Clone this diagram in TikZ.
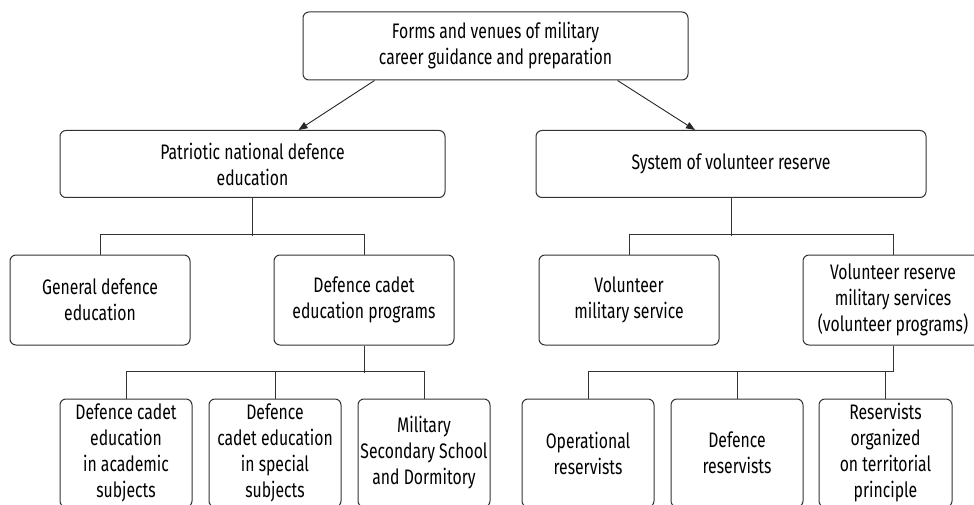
\documentclass[tikz,border=0pt]{standalone}
\usepackage{fontspec}
\setmainfont{Fira Sans}[FakeStretch=0.75]
\usetikzlibrary{arrows.meta}

\begin{document}
\begin{tikzpicture}[x=1pt,y=1pt,
		box/.style={draw=black!80, line width=1pt, rounded corners=6pt, align=center,
			inner sep=0pt, font=\fontsize{21}{26}\selectfont, text=black},
		arr/.style={draw=black!85, line width=0.9pt, -{Triangle[length=9pt,width=7pt]}}]
			%%%%% START %%%%%
			
			\useasboundingbox (0, 0) rectangle (974, -505);
			
			\node[box, minimum width=385, minimum height=68] (top) at (495.5, -46) {Forms and venues of military\\career guidance and preparation};
			
			\node[box, minimum width=385, minimum height=67] (pat) at (252.5, -164) {Patriotic national defence\\education};
			\node[box, minimum width=390, minimum height=67] (sys) at (731, -164) {System of volunteer reserve};
			
			\draw[arr] ([xshift=72pt]top.south west) -- ([xshift=46pt]pat.north);
			\draw[arr] ([xshift=-71pt]top.south east) -- ([xshift=-36pt]sys.north);
			
			\node[box, minimum width=180, minimum height=90] (gen) at (100, -300) {General defence\\education};
			\node[box, minimum width=180, minimum height=90] (cad) at (364, -300) {Defence cadet\\education programs};
			\node[box, minimum width=180, minimum height=90] (vms) at (629, -300) {Volunteer\\military service};
			\node[box, minimum width=180, minimum height=90] (vrs) at (893, -300) {Volunteer reserve\\military services\\(volunteer programs)};
			
			\draw[line width=1pt, black!80] (pat.south) -- ++(0, -38);
			\draw[line width=1pt, black!80] (gen.north) -- ++(0, 20) -| (cad.north);
			\draw[line width=1pt, black!80] (sys.south) -- ++(0, -38);
			\draw[line width=1pt, black!80] (vms.north) -- ++(0, 20) -| (vrs.north);
			
			\node[box, minimum width=132, minimum height=108] (acad) at (126, -453) {Defence cadet\\education\\in academic\\subjects};
			\node[box, minimum width=132, minimum height=108] (spec) at (275, -453) {Defence\\cadet education\\in special\\subjects};
			\node[box, minimum width=132, minimum height=108] (mss) at (424, -453) {Military\\Secondary School\\and Dormitory};
			
			\node[box, minimum width=132, minimum height=108] (oper) at (588, -453) {Operational\\reservists};
			\node[box, minimum width=132, minimum height=108] (defr) at (737, -453) {Defence\\reservists};
			\node[box, minimum width=133, minimum height=108] (terr) at (885.5, -453) {Reservists\\organized\\on territorial\\principle};
			
			\draw[line width=1pt, black!80] (acad.north) -- ++(0, 27) -| (mss.north);
			\draw[line width=1pt, black!80] (spec.north) -- ++(0, 27);
			\draw[line width=1pt, black!80] (cad.south) -- ++(0, -27);
			
			\draw[line width=1pt, black!80] (oper.north) -- ++(0, 27) -| (vrs.south);
			\draw[line width=1pt, black!80] (defr.north) -- ++(0, 27);
			\draw[line width=1pt, black!80] (terr.north) -- ++(0, 27);
			
			%%%%% END %%%%%
\end{tikzpicture}
\end{document}
